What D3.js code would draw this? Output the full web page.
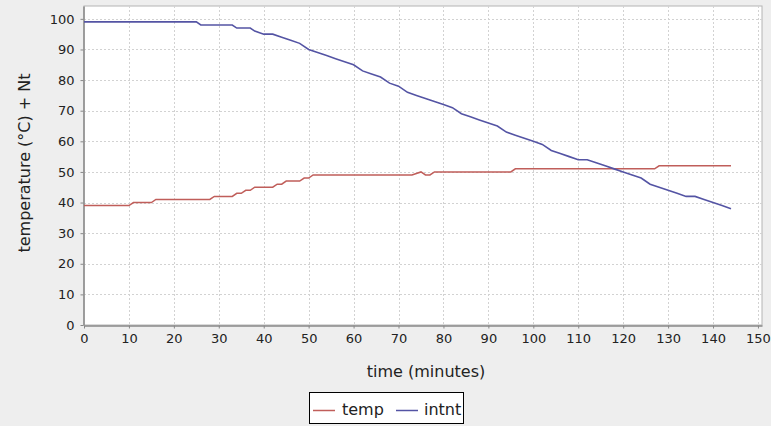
<!DOCTYPE html>
<html>
<head>
<meta charset="utf-8">
<script src="https://cdn.jsdelivr.net/npm/d3@7/dist/d3.min.js"></script>
<style>
  html, body { margin: 0; padding: 0; background: #eeeeee; }
  text { font-family: "DejaVu Sans", sans-serif; fill: #222; }
</style>
</head>
<body>
<div id="chart"></div>
<script>

// temp readings: [minute, °C]
var tempSeries = [
  [0,39],[10,39],[11,40],[15,40],[16,41],[28,41],[29,42],[33,42],[34,43],[35,43],
  [36,44],[37,44],[38,45],[42,45],[43,46],[44,46],[45,47],[48,47],[49,48],[50,48],
  [51,49],[73,49],[75,50],[76,49],[77,49],[78,50],[95,50],[96,51],[127,51],[128,52],
  [144,52]
];

// intnt readings: [minute, Nt]
var intntSeries = [
  [0,99],[25,99],[26,98],[33,98],[34,97],[37,97],[38,96],[40,95],[42,95],[44,94],
  [46,93],[48,92],[50,90],[52,89],[54,88],[56,87],[58,86],[60,85],[62,83],[64,82],
  [66,81],[68,79],[70,78],[72,76],[74,75],[76,74],[78,73],[80,72],[82,71],[84,69],
  [86,68],[88,67],[90,66],[92,65],[94,63],[96,62],[98,61],[100,60],[102,59],[104,57],
  [106,56],[108,55],[110,54],[112,54],[114,53],[116,52],[118,51],[120,50],[122,49],
  [124,48],[126,46],[128,45],[130,44],[132,43],[134,42],[136,42],[138,41],[140,40],
  [142,39],[144,38]
];

var seriesNames = ['temp', 'intnt'];
var xTicks = d3.range(0, 151, 10);
var yTicks = d3.range(0, 101, 10);

var width = 771,
    height = 426;

var plot = {left: 84, right: 762, top: 6, bottom: 325};

var svg = d3.select('#chart')
  .append('svg')
  .attr('width', width)
  .attr('height', height);

var x = d3.scaleLinear().domain([0, 150.9]).range([plot.left, plot.right]);
var y = d3.scaleLinear().domain([0, 104.2]).range([plot.bottom, plot.top]);

// plot background
svg.append('rect')
  .attr('x', plot.left)
  .attr('y', plot.top)
  .attr('width', plot.right - plot.left)
  .attr('height', plot.bottom - plot.top)
  .attr('fill', '#fff')
  .attr('stroke', '#b4b4b4');

// grid lines
svg.append('g')
  .selectAll('line')
  .data(xTicks.filter(function(d) { return d > 0; }))
  .enter().append('line')
  .attr('x1', function(d) { return Math.round(x(d)) + 0.5; })
  .attr('x2', function(d) { return Math.round(x(d)) + 0.5; })
  .attr('y1', plot.top)
  .attr('y2', plot.bottom)
  .attr('stroke', '#d2d2d2')
  .attr('stroke-dasharray', '2,2');

svg.append('g')
  .selectAll('line')
  .data(yTicks.filter(function(d) { return d > 0; }))
  .enter().append('line')
  .attr('x1', plot.left)
  .attr('x2', plot.right)
  .attr('y1', function(d) { return Math.round(y(d)) + 0.5; })
  .attr('y2', function(d) { return Math.round(y(d)) + 0.5; })
  .attr('stroke', '#d2d2d2')
  .attr('stroke-dasharray', '2,2');

// axes
var xAxis = svg.append('g')
  .attr('transform', 'translate(0,' + (plot.bottom + 0.5) + ')')
  .call(d3.axisBottom(x).tickValues(xTicks).tickSize(3).tickPadding(5).tickSizeOuter(0));

var yAxis = svg.append('g')
  .attr('transform', 'translate(' + (plot.left - 0.5) + ',0)')
  .call(d3.axisLeft(y).tickValues(yTicks).tickSize(3).tickPadding(6).tickSizeOuter(0));

[xAxis, yAxis].forEach(function(a) {
  a.select('.domain').attr('stroke', '#888').attr('stroke-width', 1.5);
  a.selectAll('.tick line').attr('stroke', '#888');
  a.selectAll('.tick text')
    .attr('fill', '#222')
    .style('font-family', '"DejaVu Sans", sans-serif')
    .style('font-size', '13px');
});

// axis titles
svg.append('text')
  .attr('x', 426)
  .attr('y', 377)
  .attr('text-anchor', 'middle')
  .style('font-size', '16px')
  .text('time (minutes)');

svg.append('text')
  .attr('transform', 'translate(30,' + 163 + ') rotate(-90)')
  .attr('text-anchor', 'middle')
  .style('font-size', '16px')
  .text('temperature (°C) + Nt');

// series lines
var line = d3.line()
  .x(function(d) { return x(d[0]); })
  .y(function(d) { return y(d[1]); });

var colors = d3.scaleOrdinal().domain(seriesNames).range(['#c05e5a', '#5454a4']);

svg.append('path')
  .datum(tempSeries)
  .attr('d', line)
  .attr('fill', 'none')
  .attr('stroke', colors('temp'))
  .attr('stroke-width', 1.5);

svg.append('path')
  .datum(intntSeries)
  .attr('d', line)
  .attr('fill', 'none')
  .attr('stroke', colors('intnt'))
  .attr('stroke-width', 1.6);

// legend
var legend = svg.append('g');

legend.append('rect')
  .attr('x', 309.5)
  .attr('y', 392.5)
  .attr('width', 154)
  .attr('height', 31)
  .attr('fill', '#fff')
  .attr('stroke', '#000');

var legendItems = [
  {name: 'temp', lineX: 313, textX: 342},
  {name: 'intnt', lineX: 396, textX: 424}
];

legendItems.forEach(function(it) {
  legend.append('line')
    .attr('x1', it.lineX)
    .attr('x2', it.lineX + 22)
    .attr('y1', 410.5)
    .attr('y2', 410.5)
    .attr('stroke', colors(it.name))
    .attr('stroke-width', 1.5);
  legend.append('text')
    .attr('x', it.textX)
    .attr('y', 415)
    .style('font-size', '16px')
    .text(it.name);
});

</script>
</body>
</html>
